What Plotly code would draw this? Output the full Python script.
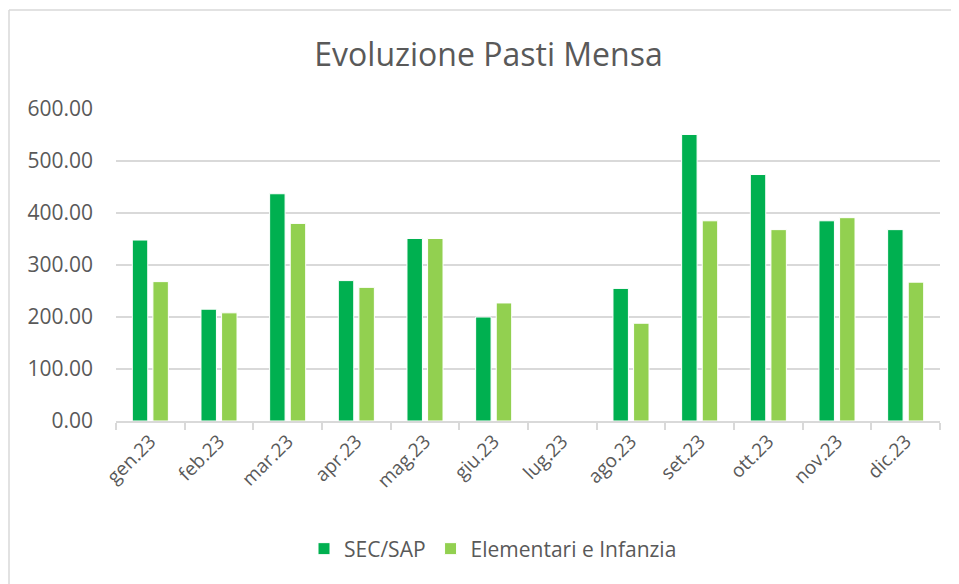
import plotly.graph_objects as go

months = ["gen.23", "feb.23", "mar.23", "apr.23", "mag.23", "giu.23",
          "lug.23", "ago.23", "set.23", "ott.23", "nov.23", "dic.23"]
sec_sap = [348, 215, 437, 270, 351, 200, 0, 255, 551, 474, 385, 368]
elementari = [268, 208, 380, 257, 351, 227, 0, 188, 385, 368, 391, 267]
y_ticks = [0, 100, 200, 300, 400, 500, 600]

W, H = 959, 584
OFF = 8  # page offset
ML, MR, MT, MB = 116 - OFF, 19 + OFF, 109 - OFF, 163 + OFF
FONT = "Open Sans"
GRAY = "#595959"
LINE = "#D9D9D9"

fig = go.Figure()
fig.add_trace(go.Bar(name="SEC/SAP", x=months, y=sec_sap,
                     marker=dict(color="#00B050", line=dict(color="white", width=1))))
fig.add_trace(go.Bar(name="Elementari e Infanzia", x=months, y=elementari,
                     marker=dict(color="#92D050", line=dict(color="white", width=1))))

pw = W - ML - MR
ph = H - MT - MB
def px_x(p):
    return (p - OFF - ML) / pw
def px_y(p):
    return (H - MB - (p - OFF)) / ph

fig.update_layout(
    width=W, height=H,
    margin=dict(l=ML, r=MR, t=MT, b=MB),
    paper_bgcolor="white", plot_bgcolor="white",
    barmode="group", bargap=0.40, bargroupgap=0.25,
    font=dict(family=FONT, color=GRAY),
    title=dict(text="Evoluzione Pasti Mensa", font=dict(size=32, color=GRAY, family=FONT),
               x=(488.5 - OFF) / W, xref="container", xanchor="center",
               y=1 - (55 - OFF) / H, yref="container", yanchor="middle"),
    xaxis=dict(type="category", tickangle=-45, tickfont=dict(size=19, color=GRAY),
               showline=True, linecolor=LINE, linewidth=1.5,
               ticks="outside", tickson="boundaries", ticklen=7, tickcolor=LINE, tickwidth=1.5,
               showgrid=False, fixedrange=True),
    yaxis=dict(range=[0, 600], tickvals=y_ticks, tickformat=".2f",
               tickfont=dict(size=21, color=GRAY), showgrid=True, gridcolor=LINE, gridwidth=1.5,
               zeroline=False, showline=False, ticks="", ticklabelstandoff=22, fixedrange=True),
    legend=dict(orientation="h", x=px_x(493), xanchor="center", y=px_y(549), yanchor="middle",
                font=dict(size=21, color=GRAY), traceorder="normal"),
    showlegend=True,
    shapes=[
        dict(type="line", xref="paper", yref="paper", x0=px_x(9), x1=px_x(W + 20),
             y0=px_y(10), y1=px_y(10), line=dict(color=LINE, width=1.5)),
        dict(type="line", xref="paper", yref="paper", x0=px_x(9), x1=px_x(9),
             y0=px_y(10), y1=px_y(H + 20), line=dict(color=LINE, width=1.5)),
    ],
)

fig.write_html("out.html")
